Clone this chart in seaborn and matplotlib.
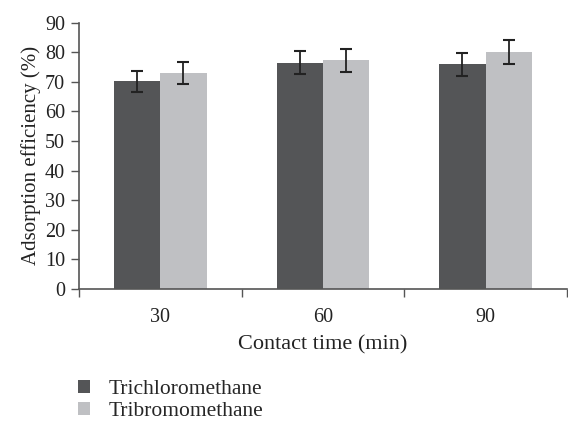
import matplotlib
matplotlib.use("Agg")
import matplotlib.pyplot as plt
import seaborn as sns
import pandas as pd
import numpy as np
from matplotlib.patches import Patch

times = ["30", "60", "90"]
series = ["Trichloromethane", "Tribromomethane"]
trichloro = [70.2, 76.5, 75.9]
tribromo = [73.0, 77.3, 80.0]
trichloro_err = [3.6, 3.8, 3.8]
tribromo_err = [3.7, 3.9, 4.0]
colors = ["#545557", "#bfc0c3"]

df = pd.DataFrame({
    "time": times * 2,
    "compound": [series[0]] * 3 + [series[1]] * 3,
    "value": trichloro + tribromo,
})
errs = {series[0]: trichloro_err, series[1]: tribromo_err}

sns.set_style("white")
plt.rcParams["font.family"] = ["Liberation Serif", "DejaVu Serif"]

fig = plt.figure(figsize=(5.68, 4.21), dpi=100)
ax = fig.add_axes([0.139, 0.314, 0.859, 0.632])

sns.barplot(data=df, x="time", y="value", hue="compound", order=times,
            hue_order=series, palette=colors, width=0.57, saturation=1,
            errorbar=None, ax=ax, legend=False, linewidth=0)

for cont, name in zip(ax.containers, series):
    xs = [p.get_x() + p.get_width() / 2 for p in cont]
    ys = [p.get_height() for p in cont]
    ax.errorbar(xs, ys, yerr=errs[name], fmt="none", ecolor="#222222",
                elinewidth=1.3, capsize=4, capthick=1.5)

ax.set_xlim(-0.5, 2.5)
ax.set_ylim(0, 90)
ax.set_yticks(np.arange(0, 91, 10))
ax.set_xticks([0, 1, 2])
ax.set_xticks([-0.5, 0.5, 1.5, 2.5], minor=True)
ax.tick_params(axis="x", which="major", length=0, labelsize=14.5, pad=14, colors="#222222")
ax.tick_params(axis="x", which="minor", length=6, width=1, color="#555555", direction="out", bottom=True)
ax.tick_params(axis="y", length=6, width=1, color="#555555", direction="out", left=True, labelsize=14.5, colors="#222222", pad=4)
for s in ["top", "right"]:
    ax.spines[s].set_visible(False)
for s in ["left", "bottom"]:
    ax.spines[s].set_color("#555555")
    ax.spines[s].set_linewidth(1.2)
ax.set_xlabel("Contact time (min)", fontsize=16, color="#222222", labelpad=6)
ax.set_ylabel("Adsorption efficiency (%)", fontsize=15, color="#222222", labelpad=3)

handles = [Patch(facecolor=c, edgecolor="none") for c in colors]
fig.legend(handles, series, loc="upper left", bbox_to_anchor=(0.137, 0.097),
           frameon=False, fontsize=15.5, handlelength=0.57, handleheight=0.57,
           handletextpad=0.85, labelspacing=0.1, borderaxespad=0, borderpad=0)

fig.savefig("out.png", dpi=100)
